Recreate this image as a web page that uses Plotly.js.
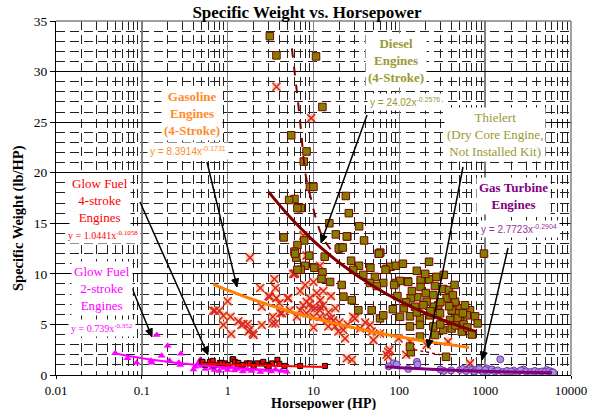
<!DOCTYPE html>
<html><head><meta charset="utf-8">
<script src="https://cdn.plot.ly/plotly-3.0.1.min.js"></script>
<style>html,body{margin:0;padding:0;background:#fff}#chart{width:597px;height:410px}</style>
</head><body><div id="chart"></div>
<script>
// ---------------- DATA ----------------
const dieselHP = [3.1,3.7,10.7,12.7,5.5,8.3,7.7,9.1,10.0,6.0,7.1,23.8,25.8,15.3,34,4.5,7.8,18.2,24.8,38.8,6.5,6.0,6.3,8.9,13.5,19.7,21.9,27.4,33.9,46,57.5,8.0,7.1,10.2,12.7,12.4,15.6,21.3,29,38,52,71,79,91,65,91,45.5,54.6,969,222,69,60,102,125,177,222,177,203,87,325,379,249,162,136,356,509,666,582,446,762,818,610,466,407,284,249,208,191,152,113,84,102,133,174,228,298,390,509,174,249,325,407,533,133,174,261,22.3,27.9,33.3,47.6,59.6,65,136,350,133,6.1,6.5,5.2,6.5,127,58,24.4,140,260,300,420,480,560,620,700,230,160,120,95,300,450,380,550,270,330,440,200,160,110];
const dieselSW = [33.5,31.6,31.5,26.5,23.7,22.1,21.1,18.6,18.6,17.4,16.5,17.7,16.0,15.0,14.7,13.6,13.3,13.9,13.7,13.3,12.85,12.2,11.6,11.8,11.7,12.5,12.6,11.3,10.8,10.6,12.0,10.8,10.4,10.6,10.15,9.5,9.2,8.9,10.4,9.9,9.7,10.5,10.7,10.8,9.1,9.1,9.1,8.8,12.0,11.2,10.4,12.1,9.3,9.25,9.4,9.45,8.7,8.1,8.9,8.5,8.4,7.9,7.7,7.6,7.6,6.6,6.4,6.9,7.25,5.8,5.1,5.9,6.1,6.4,6.9,6.75,7.25,6.9,6.75,6.6,6.5,5.75,5.8,5.6,5.9,6.1,5.45,5.3,4.95,4.8,4.45,4.6,4.3,4.8,3.8,3.95,7.75,7.4,6.4,6.4,5.6,5.9,2.25,1.8,2.8,12.0,10.4,17.3,16.5,9.2,12.0,13.7,8.3,8.8,7.2,7.9,5.6,5.0,4.7,4.0,6.3,6.2,7.2,7.8,5.0,4.9,6.8,6.1,9.7,9.9,8.9,10.0,10.3,11.0];

const gasHP = [3.7,9.4,1.82,3.5,6.1,5.8,8.0,2.4,3.6,3.0,3.7,4.0,5.1,1.0,0.71,0.8,0.68,0.89,1.1,1.08,0.89,1.33,1.52,1.71,1.82,1.96,2.0,2.5,3.3,3.35,4.1,4.3,5.3,6.4,7.0,7.6,8.3,9.1,10.9,10.4,11.9,13.0,8.3,10,11.9,14.3,10,14.9,17.8,19.5,22.3,23.3,29,45.5,50,24.4,28,7.6,6.0,11.9,8.3,2.5,3.1,5.0,3.6,1.75,1.45,17,47.6,59.6,74,74,98,133,208,666,71,77,120,370,16,30.5,11.9,9,12,15,18,20,13,10,16,7,25,35,40,9.5];
const gasSW = [28.5,25.4,11.6,9.5,10.05,10.0,8.9,8.6,8.6,7.8,7.6,7.1,7.6,7.3,6.35,6.35,6.35,4.95,4.05,5.75,5.85,5.3,5.05,5.05,4.5,4.1,3.95,4.95,5.1,5.75,6.1,6.1,6.4,5.75,6.4,6.9,7.25,7.6,8.1,6.6,6.75,6.9,6.1,5.75,5.75,5.45,4.7,4.8,4.8,4.3,4.45,3.6,5.75,4.95,3.45,1.65,1.5,13.8,10.0,10.8,11.8,6.75,7.75,7.6,5.1,4.3,4.95,5.4,4.3,4.1,2.3,1.8,3.6,3.3,2.97,1.15,2.0,2.5,2.0,3.3,5.6,5.6,6.4,7.0,7.4,6.2,6.6,5.2,8.3,9.2,7.8,8.3,5.0,4.6,5.2,6.6];

const glow4HP = [0.5,0.51,0.62,0.67,0.81,0.85,0.93,1.14,1.16,1.22,1.33,1.67,1.82,2.2,2.5,2.6,2.85,3.3,3.8,4.6,7.0,13.6,0.55,0.7,1.0,1.3,2.0,3.0,1.5,4.0];
const glow4SW = [1.3,1.3,1.3,1.4,1.2,1.2,1.15,1.55,1.55,1.3,1.2,1.15,1.15,1.15,1.15,1.3,1.0,1.15,1.5,0.9,0.9,0.9,1.0,0.95,1.0,0.9,0.9,0.85,1.0,1.1];

const glow2HP = [0.149,0.2,0.285,0.17,0.13,0.087,0.068,0.049,0.21,0.28,0.42,0.48,0.128,0.27,0.4,4.9,0.5,0.55,0.6,0.65,0.7,0.75,0.8,0.9,1.0,1.1,1.2,1.3,1.5,1.7,1.9,2.1,2.4,2.8,3.2,3.6,4.2,0.45,0.52,0.95,1.4];
const glow2SW = [3.95,2.9,2.1,1.9,1.2,1.2,1.65,2.15,1.4,1.0,0.82,1.5,1.4,1.2,0.55,0.33,0.9,0.6,1.0,0.7,0.5,0.9,0.4,0.7,0.5,0.8,0.45,0.6,0.35,0.55,0.4,0.6,0.3,0.5,0.35,0.55,0.4,1.1,1.2,1.0,0.8];

const turbHP = [85,93,160,163,127,330,510,667,1050,1500,2150,2800,5200,5900,300,75,400,550,600,700,750,800,900,950,1100,1200,1300,1400,1600,1800,2000,2400,2600,3000,3400,3800,4200,4600,5000,5600,6000,6200,850,1000];
const turbSW = [1.15,1.05,1.3,1.05,0.6,0.4,0.5,0.65,0.65,1.55,0.43,0.55,0.5,0.22,0.55,0.85,0.45,0.6,0.4,0.5,0.35,0.55,0.45,0.3,0.4,0.55,0.35,0.45,0.3,0.4,0.35,0.3,0.45,0.35,0.3,0.4,0.3,0.35,0.3,0.4,0.3,0.25,0.6,0.5];

// trend lines
const dieselTrendHP = [3,5,10,20,50,100,200,500,800];
const dieselTrendSW = [18.1,15.87,13.27,11.10,8.77,7.33,6.13,4.84,4.29];
const gasTrendHP = [0.68,1,2,5,10,20,50,100,200,650];
const gasTrendSW = [8.97,8.39,7.44,6.35,5.63,5.00,4.26,3.78,3.35,2.73];
const glow4TrendHP = [0.5,1,2,5,10,13.6];
const glow4TrendSW = [1.12,1.044,0.969,0.881,0.818,0.792];
const glow2TrendHP = [0.046,0.1,0.2,0.5,1,2,3,5];
const glow2TrendSW = [2.18,1.66,1.30,0.943,0.739,0.579,0.502,0.419];
const turbTrendHP = [70,100,200,500,1000,2000,6000];
const turbTrendSW = [0.81,0.728,0.595,0.456,0.373,0.305,0.222];
const thielertHP = [150,300];
const thielertSW = [2.5,2.0];
const dashHP = [5.6,7.0,7.75,8.3,9.3,10.9,13.0,17.8];
const dashSW = [32.3,25.0,21.0,19.3,17.5,15.2,13.5,11.9];

const xTickVals = [0.01,0.1,1,10,100,1000,10000];
const xTickText = ['0.01','0.1','1','10','100','1000','10000'];

// ---------------- CHART ----------------
const SERIF = 'Liberation Serif, Times New Roman, serif';
const SANS = 'Liberation Sans, Arial, sans-serif';
const L=56,R=571,T=21,B=375;
const px = x => (x-L)/(R-L);
const py = y => (B-y)/(B-T);

const traces = [
  {x:glow2HP,y:glow2SW,mode:'markers',type:'scatter',marker:{symbol:'triangle-up',size:7,color:'#FF00FF'}},
  {x:glow4HP,y:glow4SW,mode:'markers',type:'scatter',marker:{symbol:'square',size:5,color:'#FF0000',line:{color:'#000',width:1}}},
  {x:gasHP,y:gasSW,mode:'markers',type:'scatter',marker:{symbol:'square',size:8,color:'rgba(255,200,150,0.85)'}},
  {x:gasHP,y:gasSW,mode:'markers',type:'scatter',marker:{symbol:'x-thin-open',size:8,line:{color:'#FF2000',width:1.5}}},
  {x:dieselHP,y:dieselSW,mode:'markers',type:'scatter',marker:{symbol:'square',size:7.5,color:'#808000',line:{color:'#800000',width:1}}},
  {x:turbHP,y:turbSW,mode:'markers',type:'scatter',marker:{symbol:'circle',size:7,color:'#A38DE8',line:{color:'#7A3A9A',width:1}}},
  {x:dashHP,y:dashSW,mode:'lines',type:'scatter',line:{color:'#800000',width:2,dash:'dash',shape:'spline'}},
  {x:dieselTrendHP,y:dieselTrendSW,mode:'lines',type:'scatter',line:{color:'#800000',width:3,shape:'spline'}},
  {x:gasTrendHP,y:gasTrendSW,mode:'lines',type:'scatter',line:{color:'#FF8000',width:3,shape:'spline'}},
  {x:glow4TrendHP,y:glow4TrendSW,mode:'lines',type:'scatter',line:{color:'#FF0000',width:2,shape:'spline'}},
  {x:glow2TrendHP,y:glow2TrendSW,mode:'lines',type:'scatter',line:{color:'#FF00FF',width:2,shape:'spline'}},
  {x:turbTrendHP,y:turbTrendSW,mode:'lines',type:'scatter',line:{color:'#800080',width:3,shape:'spline'}},
  {x:thielertHP,y:thielertSW,mode:'lines',type:'scatter',line:{color:'#A00000',width:1.5,dash:'dot'}}
];

function label(cx,cy,text,color,size,family,bold){
  return {xref:'paper',yref:'paper',x:px(cx),y:py(cy),xanchor:'center',yanchor:'middle',
    text: bold?('<b>'+text+'</b>'):text, showarrow:false, bgcolor:'#fff', borderpad:2,
    font:{family:family,size:size,color:color}};
}
// arrows drawn as shapes (line + filled head), positioned in pixel space
function arrowShapes(tx,ty,hx,hy){
  const dx=hx-tx, dy=hy-ty, len=Math.hypot(dx,dy), ux=dx/len, uy=dy/len;
  const nx=-uy, ny=ux, hl=8, hw=3.5;
  const bx=hx-ux*hl, by=hy-uy*hl;
  const p1=[bx+nx*hw,by+ny*hw], p2=[bx-nx*hw,by-ny*hw];
  const P=(a,b)=>px(a).toFixed(5)+','+py(b).toFixed(5);
  return [
    {type:'line',xref:'paper',yref:'paper',x0:px(tx),y0:py(ty),x1:px(bx+ux*2),y1:py(by+uy*2),line:{color:'#000',width:1.5},layer:'above'},
    {type:'path',xref:'paper',yref:'paper',path:'M'+P(hx,hy)+' L'+P(p1[0],p1[1])+' L'+P(p2[0],p2[1])+' Z',
      fillcolor:'#000',line:{color:'#000',width:1},layer:'above'}
  ];
}

const annotations = [
  label(192,113,'Gasoline<br>Engines<br>(4-Stroke)','#FF8C28',13,SERIF,true),
  label(188,151,'y = 8.3914x<sup>-0.1731</sup>','#FF8C28',10,SANS,false),
  label(396,60,'Diesel<br>Engines<br>(4-Stroke)','#999933',13,SERIF,true),
  label(405,102,'y = 24.02x<sup>-0.2576</sup>','#999933',10,SANS,false),
  label(495,134,'Thielert<br>(Dry Core Engine,<br>Not Installed Kit)','#999933',13,SERIF,false),
  label(513,196,'Gas Turbine<br>Engines','#800080',13,SERIF,true),
  label(519,229,'y = 2.7723x<sup>-0.2904</sup>','#993399',10,SANS,false),
  label(100,200,'Glow Fuel<br>4-stroke<br>Engines','#FF0000',13,SERIF,false),
  label(103,235,'y = 1.0441x<sup>-0.1058</sup>','#FF0000',10,SERIF,false),
  label(102,288,'Glow Fuel<br>2-stroke<br>Engines','#FF00FF',13,SERIF,false),
  label(102,328,'y = 0.739x<sup>-0.352</sup>','#FF00FF',10,SERIF,false),
  {xref:'paper',yref:'paper',x:px(323),y:py(403.5),xanchor:'center',yanchor:'middle',showarrow:false,
    text:'<b>Horsepower (HP)</b>',font:{family:SERIF,size:14,color:'#000'}},
  {xref:'paper',yref:'paper',x:px(19),y:py(218),xanchor:'center',yanchor:'middle',showarrow:false,textangle:-90,
    text:'<b>Specific Weight (lb/HP)</b>',font:{family:SERIF,size:14.5,color:'#000'}}
];

const shapes = [
  {type:'line',xref:'paper',yref:'paper',x0:0,x1:1,y0:1,y1:1,line:{color:'#808080',width:1.5}},
  {type:'line',xref:'paper',yref:'paper',x0:1,x1:1,y0:0,y1:1,line:{color:'#808080',width:1.5}}
].concat(
  arrowShapes(207,162,237,287),
  arrowShapes(140,202,208,355),
  arrowShapes(132,288,152,337),
  arrowShapes(367,115,321,243),
  arrowShapes(463,167,428,348),
  arrowShapes(508,248,482,360)
);

const layout = {
  width:597,height:410,
  margin:{l:L,r:597-R,t:T,b:410-B,pad:0},
  paper_bgcolor:'#fff',plot_bgcolor:'#fff',
  showlegend:false,
  font:{family:SERIF,size:13,color:'#000'},
  title:{text:'<b>Specific Weight vs. Horsepower</b>',font:{family:SERIF,size:17,color:'#000'},
    xref:'container',yref:'container',x:307/597,xanchor:'center',y:1-12/410,yanchor:'middle'},
  xaxis:{type:'log',range:[-2,4],tickvals:xTickVals,ticktext:xTickText,
    showgrid:true,gridcolor:'#808080',gridwidth:1.5,
    minor:{dtick:'D1',showgrid:true,gridcolor:'#222',gridwidth:1,griddash:'9px,5px',ticks:''},
    showline:true,linecolor:'#000',linewidth:1,ticks:'outside',ticklen:3,tickcolor:'#000',
    zeroline:false,tickfont:{family:SERIF,size:13},fixedrange:true},
  yaxis:{range:[0,35],dtick:5,tick0:0,showgrid:true,gridcolor:'#000',gridwidth:1,
    minor:{dtick:1,showgrid:true,gridcolor:'#222',gridwidth:1,griddash:'9px,5px',ticks:''},
    showline:true,linecolor:'#000',linewidth:1,ticks:'outside',ticklen:5,tickcolor:'#000',
    zeroline:false,tickfont:{family:SERIF,size:13.5},fixedrange:true},
  shapes:shapes,
  annotations:annotations
};

Plotly.newPlot('chart',traces,layout,{staticPlot:true,displayModeBar:false});
</script></body></html>
